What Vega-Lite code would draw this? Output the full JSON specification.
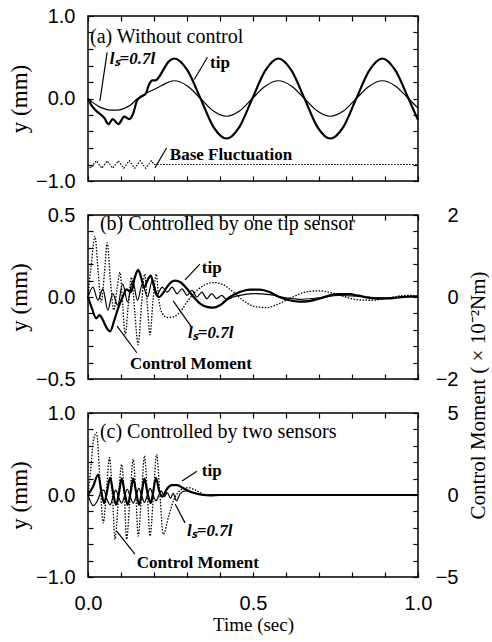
{
  "$schema": "https://vega.github.io/schema/vega-lite/v6.json",
  "padding": {"left": 7, "top": 5, "right": 0, "bottom": 4},
  "bounds": "flush",
  "spacing": 34,
  "config": {
    "view": {"stroke": "black", "strokeWidth": 1.5},
    "axis": {"tickColor": "black", "tickWidth": 1.2, "tickSize": -5, "domain": false, "grid": false, "labelColor": "black", "titleColor": "black", "labelFont": "Liberation Sans", "labelFontSize": 20, "labelOverlap": false, "labelFlush": false, "titleFont": "Liberation Serif", "titleFontSize": 20, "titleFontWeight": "normal"}
  },
  "datasets": {
    "a_tip": [{"t":0,"v":0},{"t":0.01,"v":-0.08},{"t":0.025,"v":-0.15},{"t":0.04,"v":-0.2},{"t":0.05,"v":-0.24},{"t":0.062,"v":-0.31},{"t":0.075,"v":-0.25},{"t":0.092,"v":-0.31},{"t":0.11,"v":-0.22},{"t":0.125,"v":-0.25},{"t":0.137,"v":-0.18},{"t":0.148,"v":-0.03},{"t":0.16,"v":0.02},{"t":0.175,"v":0.06},{"t":0.185,"v":0.17},{"t":0.195,"v":0.22},{"t":0.205,"v":0.22},{"t":0.215,"v":0.26},{"t":0.23,"v":0.36},{"t":0.245,"v":0.45},{"t":0.262,"v":0.485},{"t":0.301,"v":0.343},{"t":0.341,"v":0},{"t":0.38,"v":-0.343},{"t":0.42,"v":-0.485},{"t":0.459,"v":-0.343},{"t":0.498,"v":0},{"t":0.538,"v":0.343},{"t":0.577,"v":0.485},{"t":0.616,"v":0.343},{"t":0.656,"v":0},{"t":0.695,"v":-0.343},{"t":0.734,"v":-0.485},{"t":0.774,"v":-0.343},{"t":0.813,"v":0},{"t":0.853,"v":0.343},{"t":0.892,"v":0.485},{"t":0.931,"v":0.343},{"t":0.971,"v":0},{"t":1.0,"v":-0.26}],
    "a_ls": [{"t":0,"v":0},{"t":0.015,"v":-0.05},{"t":0.03,"v":-0.09},{"t":0.05,"v":-0.125},{"t":0.07,"v":-0.14},{"t":0.09,"v":-0.14},{"t":0.11,"v":-0.12},{"t":0.13,"v":-0.075},{"t":0.15,"v":0},{"t":0.175,"v":0.06},{"t":0.2,"v":0.11},{"t":0.225,"v":0.16},{"t":0.245,"v":0.2},{"t":0.262,"v":0.215},{"t":0.301,"v":0.152},{"t":0.341,"v":0},{"t":0.38,"v":-0.152},{"t":0.42,"v":-0.215},{"t":0.459,"v":-0.152},{"t":0.498,"v":0},{"t":0.538,"v":0.152},{"t":0.577,"v":0.215},{"t":0.616,"v":0.152},{"t":0.656,"v":0},{"t":0.695,"v":-0.152},{"t":0.734,"v":-0.215},{"t":0.774,"v":-0.152},{"t":0.813,"v":0},{"t":0.853,"v":0.152},{"t":0.892,"v":0.215},{"t":0.931,"v":0.152},{"t":0.971,"v":0},{"t":1.0,"v":-0.117}],
    "a_base": [{"t":0,"v":-0.8},{"t":0.008,"v":-0.845},{"t":0.025,"v":-0.755},{"t":0.042,"v":-0.845},{"t":0.058,"v":-0.755},{"t":0.075,"v":-0.845},{"t":0.092,"v":-0.755},{"t":0.108,"v":-0.845},{"t":0.125,"v":-0.755},{"t":0.142,"v":-0.845},{"t":0.158,"v":-0.755},{"t":0.175,"v":-0.845},{"t":0.192,"v":-0.755},{"t":0.2,"v":-0.8},{"t":1.0,"v":-0.8}],
    "b_tip": [{"t":0,"v":0},{"t":0.012,"v":-0.07},{"t":0.025,"v":-0.13},{"t":0.035,"v":-0.11},{"t":0.045,"v":-0.14},{"t":0.057,"v":-0.19},{"t":0.067,"v":-0.21},{"t":0.08,"v":-0.14},{"t":0.092,"v":-0.065},{"t":0.105,"v":0.0},{"t":0.117,"v":0.047},{"t":0.13,"v":0.03},{"t":0.142,"v":0.12},{"t":0.152,"v":0.165},{"t":0.161,"v":0.12},{"t":0.17,"v":0.057},{"t":0.18,"v":0.1},{"t":0.19,"v":0.13},{"t":0.198,"v":0.08},{"t":0.206,"v":0.02},{"t":0.216,"v":0.0},{"t":0.226,"v":0.02},{"t":0.238,"v":0.057},{"t":0.252,"v":0.09},{"t":0.264,"v":0.1},{"t":0.28,"v":0.09},{"t":0.3,"v":0.05},{"t":0.32,"v":0.0},{"t":0.34,"v":-0.04},{"t":0.36,"v":-0.06},{"t":0.38,"v":-0.065},{"t":0.4,"v":-0.05},{"t":0.43,"v":0.0},{"t":0.46,"v":0.03},{"t":0.49,"v":0.045},{"t":0.52,"v":0.045},{"t":0.55,"v":0.03},{"t":0.58,"v":0.0},{"t":0.61,"v":-0.02},{"t":0.64,"v":-0.028},{"t":0.67,"v":-0.025},{"t":0.7,"v":-0.01},{"t":0.73,"v":0.008},{"t":0.76,"v":0.018},{"t":0.79,"v":0.017},{"t":0.82,"v":0.008},{"t":0.85,"v":-0.004},{"t":0.88,"v":-0.01},{"t":0.91,"v":-0.009},{"t":0.94,"v":-0.003},{"t":0.97,"v":0.003},{"t":1.0,"v":0.004}],
    "b_ls": [{"t":0,"v":0},{"t":0.015,"v":0.06},{"t":0.03,"v":-0.02},{"t":0.045,"v":0.05},{"t":0.06,"v":-0.08},{"t":0.075,"v":0.02},{"t":0.09,"v":-0.05},{"t":0.105,"v":0.08},{"t":0.12,"v":-0.03},{"t":0.135,"v":0.1},{"t":0.15,"v":-0.02},{"t":0.165,"v":0.08},{"t":0.18,"v":0.0},{"t":0.195,"v":0.1},{"t":0.21,"v":0.02},{"t":0.225,"v":0.06},{"t":0.24,"v":0.03},{"t":0.255,"v":0.06},{"t":0.27,"v":0.02},{"t":0.285,"v":0.05},{"t":0.3,"v":0.01},{"t":0.315,"v":0.04},{"t":0.33,"v":0.0},{"t":0.345,"v":0.03},{"t":0.36,"v":-0.01},{"t":0.375,"v":0.02},{"t":0.39,"v":-0.01},{"t":0.405,"v":0.01},{"t":0.42,"v":-0.015},{"t":0.44,"v":0.0},{"t":0.46,"v":0.01},{"t":0.5,"v":0.02},{"t":0.55,"v":0.015},{"t":0.6,"v":-0.005},{"t":0.64,"v":-0.014},{"t":0.7,"v":-0.005},{"t":0.76,"v":0.009},{"t":0.82,"v":0.004},{"t":0.88,"v":-0.005},{"t":0.94,"v":-0.002},{"t":1.0,"v":0.002}],
    "b_cm": [{"t":0,"v":0},{"t":0.01,"v":0.8},{"t":0.021,"v":1.48},{"t":0.031,"v":0.6},{"t":0.04,"v":-0.12},{"t":0.05,"v":0.6},{"t":0.058,"v":1.32},{"t":0.068,"v":0.4},{"t":0.078,"v":-0.32},{"t":0.088,"v":0.2},{"t":0.097,"v":0.6},{"t":0.105,"v":-0.2},{"t":0.113,"v":-0.92},{"t":0.122,"v":-0.2},{"t":0.132,"v":0.48},{"t":0.142,"v":-0.4},{"t":0.152,"v":-1.16},{"t":0.162,"v":-0.2},{"t":0.172,"v":0.56},{"t":0.18,"v":-0.2},{"t":0.188,"v":-0.92},{"t":0.197,"v":-0.08},{"t":0.207,"v":0.56},{"t":0.215,"v":-0.08},{"t":0.225,"v":-0.4},{"t":0.24,"v":-0.5},{"t":0.26,"v":-0.48},{"t":0.28,"v":-0.36},{"t":0.3,"v":-0.12},{"t":0.32,"v":0.08},{"t":0.35,"v":0.28},{"t":0.38,"v":0.35},{"t":0.41,"v":0.3},{"t":0.44,"v":0.12},{"t":0.47,"v":-0.08},{"t":0.5,"v":-0.22},{"t":0.54,"v":-0.26},{"t":0.58,"v":-0.16},{"t":0.62,"v":0},{"t":0.66,"v":0.12},{"t":0.7,"v":0.15},{"t":0.74,"v":0.1},{"t":0.78,"v":0},{"t":0.82,"v":-0.07},{"t":0.86,"v":-0.08},{"t":0.9,"v":-0.04},{"t":0.94,"v":0.02},{"t":0.97,"v":0.04},{"t":1.0,"v":0.02}],
    "c_tip": [{"t":0,"v":0},{"t":0.015,"v":0.1},{"t":0.031,"v":0.25},{"t":0.04,"v":0.05},{"t":0.049,"v":-0.1},{"t":0.058,"v":0.05},{"t":0.067,"v":0.21},{"t":0.076,"v":0.03},{"t":0.085,"v":-0.12},{"t":0.094,"v":0.03},{"t":0.102,"v":0.2},{"t":0.111,"v":0.03},{"t":0.12,"v":-0.12},{"t":0.129,"v":0.03},{"t":0.137,"v":0.2},{"t":0.146,"v":0.03},{"t":0.155,"v":-0.12},{"t":0.163,"v":0.03},{"t":0.171,"v":0.2},{"t":0.18,"v":0.03},{"t":0.19,"v":-0.1},{"t":0.198,"v":0.05},{"t":0.206,"v":0.21},{"t":0.215,"v":0.06},{"t":0.225,"v":-0.02},{"t":0.24,"v":0.08},{"t":0.254,"v":0.12},{"t":0.27,"v":0.12},{"t":0.29,"v":0.08},{"t":0.31,"v":0.04},{"t":0.33,"v":0.015},{"t":0.35,"v":0},{"t":0.37,"v":-0.005},{"t":0.4,"v":0},{"t":1.0,"v":0}],
    "c_ls": [{"t":0,"v":0},{"t":0.016,"v":-0.13},{"t":0.031,"v":-0.05},{"t":0.04,"v":0.05},{"t":0.048,"v":0.06},{"t":0.058,"v":-0.06},{"t":0.067,"v":-0.12},{"t":0.076,"v":-0.02},{"t":0.084,"v":0.06},{"t":0.093,"v":-0.03},{"t":0.102,"v":-0.1},{"t":0.111,"v":-0.01},{"t":0.119,"v":0.07},{"t":0.128,"v":-0.02},{"t":0.137,"v":-0.1},{"t":0.146,"v":-0.01},{"t":0.154,"v":0.08},{"t":0.163,"v":-0.01},{"t":0.171,"v":-0.09},{"t":0.18,"v":0},{"t":0.188,"v":0.08},{"t":0.197,"v":0},{"t":0.206,"v":-0.07},{"t":0.215,"v":0},{"t":0.222,"v":0.05},{"t":0.232,"v":-0.02},{"t":0.24,"v":0.03},{"t":0.25,"v":-0.04},{"t":0.258,"v":0.02},{"t":0.268,"v":-0.07},{"t":0.28,"v":0.02},{"t":0.295,"v":0.05},{"t":0.31,"v":0.04},{"t":0.33,"v":0.02},{"t":0.35,"v":0},{"t":0.4,"v":0},{"t":1.0,"v":0}],
    "c_cm": [{"t":0,"v":0},{"t":0.008,"v":1.5},{"t":0.016,"v":3.25},{"t":0.026,"v":3.8},{"t":0.036,"v":1.0},{"t":0.046,"v":-1.7},{"t":0.056,"v":0.25},{"t":0.065,"v":2.28},{"t":0.074,"v":0},{"t":0.082,"v":-2.7},{"t":0.092,"v":-0.25},{"t":0.102,"v":1.87},{"t":0.11,"v":0},{"t":0.117,"v":-2.7},{"t":0.127,"v":-0.25},{"t":0.137,"v":2.18},{"t":0.145,"v":0},{"t":0.152,"v":-2.5},{"t":0.162,"v":-0.1},{"t":0.171,"v":2.38},{"t":0.18,"v":0},{"t":0.188,"v":-2.5},{"t":0.198,"v":-0.1},{"t":0.208,"v":2.48},{"t":0.218,"v":0},{"t":0.228,"v":-2.4},{"t":0.245,"v":-1.25},{"t":0.26,"v":-0.3},{"t":0.275,"v":0.2},{"t":0.29,"v":0.4},{"t":0.304,"v":0.45},{"t":0.32,"v":0.35},{"t":0.34,"v":0.15},{"t":0.36,"v":0},{"t":0.4,"v":0},{"t":1.0,"v":0}]
  },
  "vconcat": [
    {
      "width": 330, "height": 165,
      "layer": [
        {"data": {"name": "a_tip"}, "mark": {"type": "line", "color": "black", "strokeWidth": 2.2, "interpolate": "monotone"},
         "encoding": {
           "x": {"field": "t", "type": "quantitative", "scale": {"domain": [0, 1], "nice": false}, "axis": {"orient": "bottom", "values": [0,0.1,0.2,0.3,0.4,0.5,0.6,0.7,0.8,0.9,1], "labels": false, "title": null}},
           "y": {"field": "v", "type": "quantitative", "scale": {"domain": [-1, 1], "nice": false}, "axis": {"orient": "left", "values": [-1,-0.8,-0.6,-0.4,-0.2,0,0.2,0.4,0.6,0.8,1], "labelExpr": "abs(datum.value) < 0.001 || abs(datum.value) > 0.999 ? format(datum.value, '.1f') : ''", "labelPadding": 18, "title": "y  (mm)", "titleFontSize": 23, "titlePadding": 4}}
         }},
        {"data": {"name": "a_ls"}, "mark": {"type": "line", "color": "black", "strokeWidth": 1.2, "interpolate": "monotone"},
         "encoding": {
           "x": {"field": "t", "type": "quantitative", "scale": {"domain": [0, 1], "nice": false}, "axis": {"orient": "top", "values": [0,0.1,0.2,0.3,0.4,0.5,0.6,0.7,0.8,0.9,1], "labels": false, "title": null}},
           "y": {"field": "v", "type": "quantitative", "scale": {"domain": [-1, 1], "nice": false}, "axis": {"orient": "right", "values": [-1,-0.8,-0.6,-0.4,-0.2,0,0.2,0.4,0.6,0.8,1], "labels": false, "title": null}}
         }},
        {"data": {"name": "a_base"}, "mark": {"type": "line", "color": "black", "strokeWidth": 1.2, "strokeDash": [1.5, 1.5]},
         "encoding": {"x": {"field": "t", "type": "quantitative", "axis": null}, "y": {"field": "v", "type": "quantitative", "axis": null}}},
        {"data": {"values": [{"t": 0.058, "v": 0.56, "t2": 0.036, "v2": -0.03}, {"t": 0.362, "v": 0.5, "t2": 0.322, "v2": 0.23}, {"t": 0.238, "v": -0.6, "t2": 0.203, "v2": -0.84}]},
         "mark": {"type": "rule", "color": "black", "strokeWidth": 1.2},
         "encoding": {"x": {"field": "t", "type": "quantitative", "axis": null}, "y": {"field": "v", "type": "quantitative", "axis": null}, "x2": {"field": "t2"}, "y2": {"field": "v2"}}},
        {"data": {"values": [{"t": 0.006, "v": 0.67, "txt": "(a) Without control"}]},
         "mark": {"type": "text", "font": "Liberation Serif", "fontSize": 20, "align": "left", "baseline": "alphabetic", "color": "black"},
         "encoding": {"x": {"field": "t", "type": "quantitative", "axis": null}, "y": {"field": "v", "type": "quantitative", "axis": null}, "text": {"field": "txt"}}},
        {"data": {"values": [{"t": 0.066, "v": 0.42, "txt": "lₛ=0.7l"}]},
         "mark": {"type": "text", "font": "Liberation Serif", "fontSize": 17, "fontWeight": "bold", "fontStyle": "italic", "align": "left", "baseline": "alphabetic", "color": "black"},
         "encoding": {"x": {"field": "t", "type": "quantitative", "axis": null}, "y": {"field": "v", "type": "quantitative", "axis": null}, "text": {"field": "txt"}}},
        {"data": {"values": [{"t": 0.37, "v": 0.37, "txt": "tip"}, {"t": 0.248, "v": -0.74, "txt": "Base Fluctuation"}]},
         "mark": {"type": "text", "font": "Liberation Serif", "fontSize": 17, "fontWeight": "bold", "align": "left", "baseline": "alphabetic", "color": "black"},
         "encoding": {"x": {"field": "t", "type": "quantitative", "axis": null}, "y": {"field": "v", "type": "quantitative", "axis": null}, "text": {"field": "txt"}}}
      ]
    },
    {
      "width": 330, "height": 164,
      "resolve": {"scale": {"y": "independent"}},
      "layer": [
        {"data": {"name": "b_tip"}, "mark": {"type": "line", "color": "black", "strokeWidth": 2.2, "interpolate": "monotone"},
         "encoding": {
           "x": {"field": "t", "type": "quantitative", "scale": {"domain": [0, 1], "nice": false}, "axis": {"orient": "bottom", "values": [0,0.1,0.2,0.3,0.4,0.5,0.6,0.7,0.8,0.9,1], "labels": false, "title": null}},
           "y": {"field": "v", "type": "quantitative", "scale": {"domain": [-0.5, 0.5], "nice": false}, "axis": {"orient": "left", "values": [-0.5,-0.4,-0.3,-0.2,-0.1,0,0.1,0.2,0.3,0.4,0.5], "labelExpr": "abs(datum.value) < 0.001 || abs(datum.value) > 0.499 ? format(datum.value, '.1f') : ''", "labelPadding": 18, "title": "y  (mm)", "titleFontSize": 23, "titlePadding": 4}}
         }},
        {"data": {"name": "b_ls"}, "mark": {"type": "line", "color": "black", "strokeWidth": 1.2, "interpolate": "monotone"},
         "encoding": {"x": {"field": "t", "type": "quantitative", "axis": null}, "y": {"field": "v", "type": "quantitative", "scale": {"domain": [-0.5, 0.5], "nice": false}, "axis": null}}},
        {"data": {"values": [{"t": 0.339, "v": 0.2, "t2": 0.294, "v2": 0.104}, {"t": 0.315, "v": -0.187, "t2": 0.258, "v2": -0.024}, {"t": 0.148, "v": -0.34, "t2": 0.088, "v2": -0.177}]},
         "mark": {"type": "rule", "color": "black", "strokeWidth": 1.2},
         "encoding": {"x": {"field": "t", "type": "quantitative", "axis": null}, "y": {"field": "v", "type": "quantitative", "scale": {"domain": [-0.5, 0.5], "nice": false}, "axis": null}, "x2": {"field": "t2"}, "y2": {"field": "v2"}}},
        {"data": {"values": [{"t": 0.036, "v": 0.41, "txt": "(b) Controlled by one tip sensor"}]},
         "mark": {"type": "text", "font": "Liberation Serif", "fontSize": 20, "align": "left", "baseline": "alphabetic", "color": "black"},
         "encoding": {"x": {"field": "t", "type": "quantitative", "axis": null}, "y": {"field": "v", "type": "quantitative", "scale": {"domain": [-0.5, 0.5], "nice": false}, "axis": null}, "text": {"field": "txt"}}},
        {"data": {"values": [{"t": 0.303, "v": -0.248, "txt": "lₛ=0.7l"}]},
         "mark": {"type": "text", "font": "Liberation Serif", "fontSize": 17, "fontWeight": "bold", "fontStyle": "italic", "align": "left", "baseline": "alphabetic", "color": "black"},
         "encoding": {"x": {"field": "t", "type": "quantitative", "axis": null}, "y": {"field": "v", "type": "quantitative", "scale": {"domain": [-0.5, 0.5], "nice": false}, "axis": null}, "text": {"field": "txt"}}},
        {"data": {"values": [{"t": 0.345, "v": 0.148, "txt": "tip"}, {"t": 0.127, "v": -0.44, "txt": "Control Moment"}]},
         "mark": {"type": "text", "font": "Liberation Serif", "fontSize": 17, "fontWeight": "bold", "align": "left", "baseline": "alphabetic", "color": "black"},
         "encoding": {"x": {"field": "t", "type": "quantitative", "axis": null}, "y": {"field": "v", "type": "quantitative", "scale": {"domain": [-0.5, 0.5], "nice": false}, "axis": null}, "text": {"field": "txt"}}},
        {"data": {"name": "b_cm"}, "mark": {"type": "line", "color": "black", "strokeWidth": 1.3, "strokeDash": [1.5, 1.5], "interpolate": "monotone"},
         "encoding": {
           "x": {"field": "t", "type": "quantitative", "scale": {"domain": [0, 1], "nice": false}, "axis": {"orient": "top", "values": [0,0.1,0.2,0.3,0.4,0.5,0.6,0.7,0.8,0.9,1], "labels": false, "title": null}},
           "y": {"field": "v", "type": "quantitative", "scale": {"domain": [-2, 2], "nice": false}, "axis": {"orient": "right", "values": [-2,-1.6,-1.2,-0.8,-0.4,0,0.4,0.8,1.2,1.6,2], "labelExpr": "abs(datum.value) < 0.001 || abs(datum.value) > 1.999 ? format(datum.value, 'd') : ''", "labelAlign": "right", "labelPadding": 45, "title": null}}
         }}
      ]
    },
    {
      "width": 330, "height": 164,
      "resolve": {"scale": {"y": "independent"}},
      "layer": [
        {"data": {"name": "c_tip"}, "mark": {"type": "line", "color": "black", "strokeWidth": 2.2, "interpolate": "monotone"},
         "encoding": {
           "x": {"field": "t", "type": "quantitative", "scale": {"domain": [0, 1], "nice": false}, "axis": {"orient": "bottom", "values": [0,0.1,0.2,0.3,0.4,0.5,0.6,0.7,0.8,0.9,1], "labelExpr": "datum.value == 0 || datum.value == 0.5 || datum.value == 1 ? format(datum.value, '.1f') : ''", "labelPadding": 21, "title": "Time (sec)", "titleFontSize": 19, "titlePadding": 2}},
           "y": {"field": "v", "type": "quantitative", "scale": {"domain": [-1, 1], "nice": false}, "axis": {"orient": "left", "values": [-1,-0.8,-0.6,-0.4,-0.2,0,0.2,0.4,0.6,0.8,1], "labelExpr": "abs(datum.value) < 0.001 || abs(datum.value) > 0.999 ? format(datum.value, '.1f') : ''", "labelPadding": 18, "title": "y  (mm)", "titleFontSize": 23, "titlePadding": 4}}
         }},
        {"data": {"name": "c_ls"}, "mark": {"type": "line", "color": "black", "strokeWidth": 1.2, "interpolate": "monotone"},
         "encoding": {"x": {"field": "t", "type": "quantitative", "axis": null}, "y": {"field": "v", "type": "quantitative", "scale": {"domain": [-1, 1], "nice": false}, "axis": null}}},
        {"data": {"values": [{"t": 0.33, "v": 0.29, "t2": 0.285, "v2": 0.17}, {"t": 0.294, "v": -0.34, "t2": 0.264, "v2": -0.11}, {"t": 0.142, "v": -0.72, "t2": 0.087, "v2": -0.44}]},
         "mark": {"type": "rule", "color": "black", "strokeWidth": 1.2},
         "encoding": {"x": {"field": "t", "type": "quantitative", "axis": null}, "y": {"field": "v", "type": "quantitative", "scale": {"domain": [-1, 1], "nice": false}, "axis": null}, "x2": {"field": "t2"}, "y2": {"field": "v2"}}},
        {"data": {"values": [{"t": 0.036, "v": 0.7, "txt": "(c) Controlled by two sensors"}]},
         "mark": {"type": "text", "font": "Liberation Serif", "fontSize": 20, "align": "left", "baseline": "alphabetic", "color": "black"},
         "encoding": {"x": {"field": "t", "type": "quantitative", "axis": null}, "y": {"field": "v", "type": "quantitative", "scale": {"domain": [-1, 1], "nice": false}, "axis": null}, "text": {"field": "txt"}}},
        {"data": {"values": [{"t": 0.3, "v": -0.5, "txt": "lₛ=0.7l"}]},
         "mark": {"type": "text", "font": "Liberation Serif", "fontSize": 17, "fontWeight": "bold", "fontStyle": "italic", "align": "left", "baseline": "alphabetic", "color": "black"},
         "encoding": {"x": {"field": "t", "type": "quantitative", "axis": null}, "y": {"field": "v", "type": "quantitative", "scale": {"domain": [-1, 1], "nice": false}, "axis": null}, "text": {"field": "txt"}}},
        {"data": {"values": [{"t": 0.345, "v": 0.23, "txt": "tip"}, {"t": 0.148, "v": -0.886, "txt": "Control Moment"}]},
         "mark": {"type": "text", "font": "Liberation Serif", "fontSize": 17, "fontWeight": "bold", "align": "left", "baseline": "alphabetic", "color": "black"},
         "encoding": {"x": {"field": "t", "type": "quantitative", "axis": null}, "y": {"field": "v", "type": "quantitative", "scale": {"domain": [-1, 1], "nice": false}, "axis": null}, "text": {"field": "txt"}}},
        {"data": {"name": "c_cm"}, "mark": {"type": "line", "color": "black", "strokeWidth": 1.3, "strokeDash": [1.5, 1.5], "interpolate": "monotone"},
         "encoding": {
           "x": {"field": "t", "type": "quantitative", "scale": {"domain": [0, 1], "nice": false}, "axis": {"orient": "top", "values": [0,0.1,0.2,0.3,0.4,0.5,0.6,0.7,0.8,0.9,1], "labels": false, "title": null}},
           "y": {"field": "v", "type": "quantitative", "scale": {"domain": [-5, 5], "nice": false}, "axis": {"orient": "right", "values": [-5,-4,-3,-2,-1,0,1,2,3,4,5], "labelExpr": "abs(datum.value) < 0.001 || abs(datum.value) > 4.999 ? format(datum.value, 'd') : ''", "labelAlign": "right", "labelPadding": 45, "title": "Control Moment ( × 10⁻²Nm)", "titleAngle": 270, "titleFontSize": 21, "titleX": 60, "titleY": -18, "titleBaseline": "middle", "titleAlign": "center"}}
         }}
      ]
    }
  ]
}
